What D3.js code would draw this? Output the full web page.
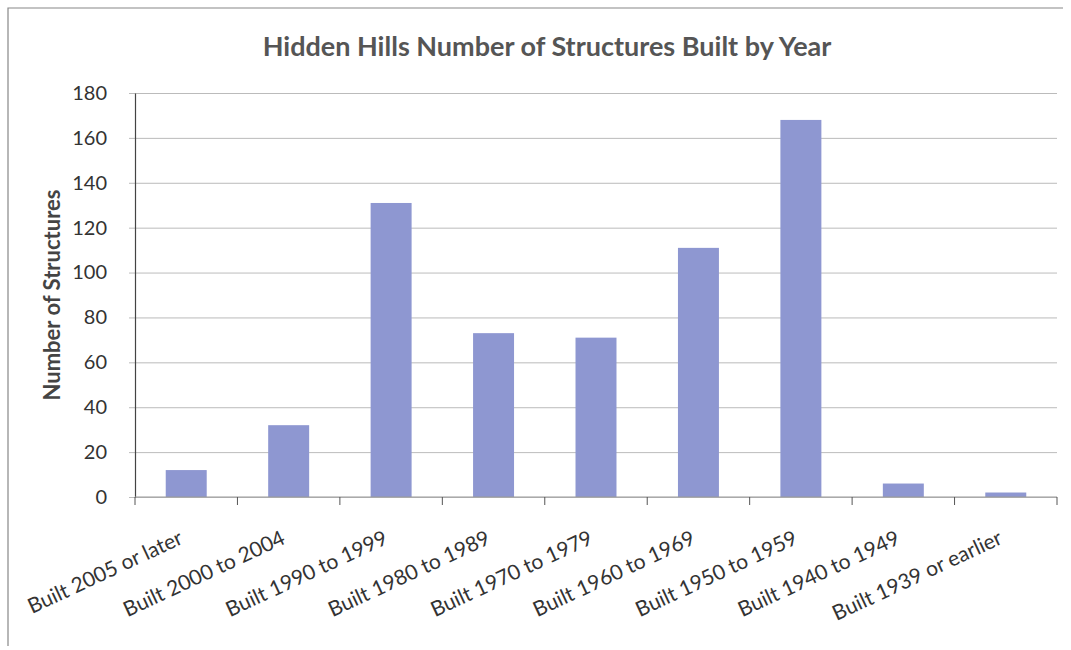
<!DOCTYPE html>
<html>
<head>
<meta charset="utf-8">
<script src="https://cdn.jsdelivr.net/npm/d3@7"></script>
<style>
  body { margin: 0; background: #fff; }
  text { font-family: Lato, "Open Sans", sans-serif; }
</style>
</head>
<body>
<div id="chart"></div>
<script>
// data
const categories = ["Built 2005 or later", "Built 2000 to 2004", "Built 1990 to 1999", "Built 1980 to 1989",
    "Built 1970 to 1979", "Built 1960 to 1969", "Built 1950 to 1959", "Built 1940 to 1949", "Built 1939 or earlier"];
const values = [12, 32, 131, 73, 71, 111, 168, 6, 2];
const yTicks = [0, 20, 40, 60, 80, 100, 120, 140, 160, 180];

const W = 1071, H = 650;
const margin = { top: 93, right: 14, bottom: 153, left: 135 };
const width = W - margin.left - margin.right;
const height = H - margin.top - margin.bottom;

const root = d3.select("#chart").append("svg")
    .attr("width", W)
    .attr("height", H);

// page border from the scan
root.append("path")
    .attr("d", `M8,646 V8 H1063`)
    .attr("fill", "none")
    .attr("stroke", "#888")
    .attr("stroke-width", 1.2);

const svg = root.append("g")
    .attr("transform", `translate(${margin.left}, ${margin.top})`);

const x = d3.scaleBand().domain(categories).range([0, width]).paddingInner(0.6).paddingOuter(0.3);
const xb = d3.scaleBand().domain(categories).range([0, width]);
const y = d3.scaleLinear().domain([0, 180]).range([height, 0]);

// gridlines
svg.append("g")
    .call(d3.axisLeft(y).tickValues(yTicks).tickSize(-width).tickFormat(""))
    .call(g => g.select(".domain").remove())
    .call(g => g.selectAll("line").attr("stroke", "#aaa").attr("stroke-width", 0.8)
        .attr("x1", -6));

// bars
svg.append("g")
    .selectAll("rect")
    .data(values)
    .join("rect")
    .attr("x", (d, i) => x(categories[i]))
    .attr("y", d => y(d))
    .attr("width", x.bandwidth())
    .attr("height", d => height - y(d))
    .attr("fill", "#8e97d1");

// y axis
svg.append("g")
    .call(d3.axisLeft(y).tickValues(yTicks).tickSize(0).tickPadding(28))
    .call(g => g.select(".domain").attr("stroke", "#444").attr("stroke-width", 1.2))
    .call(g => g.selectAll("text").attr("font-size", 20).attr("fill", "#333"));

// x axis: ticks at category boundaries
const bounds = categories.map(c => xb(c)).concat([width]);
const xAxis = svg.append("g").attr("transform", `translate(0, ${height})`);
xAxis.append("line")
    .attr("x1", 0).attr("x2", width)
    .attr("stroke", "#999").attr("stroke-width", 1);
xAxis.selectAll("line.tick")
    .data(bounds)
    .join("line")
    .attr("class", "tick")
    .attr("x1", d => d).attr("x2", d => d)
    .attr("y1", 0).attr("y2", 8)
    .attr("stroke", "#555");
xAxis.selectAll("text")
    .data(categories)
    .join("text")
    .attr("text-anchor", "end")
    .attr("font-size", 21)
    .attr("fill", "#333")
    .attr("transform", d => `translate(${xb(d) + xb.bandwidth() / 2 - 2}, ${46}) rotate(-25)`)
    .text(d => d);

// y label
svg.append("text")
    .attr("transform", `translate(${-75}, ${height / 2}) rotate(-90)`)
    .attr("text-anchor", "middle")
    .attr("font-size", 22)
    .attr("font-weight", "bold")
    .attr("fill", "#444")
    .text("Number of Structures");

// title
root.append("text")
    .attr("x", 547)
    .attr("y", 56)
    .attr("text-anchor", "middle")
    .attr("font-size", 27)
    .attr("font-weight", "bold")
    .attr("fill", "#555")
    .text("Hidden Hills Number of Structures Built by Year");
</script>
</body>
</html>
